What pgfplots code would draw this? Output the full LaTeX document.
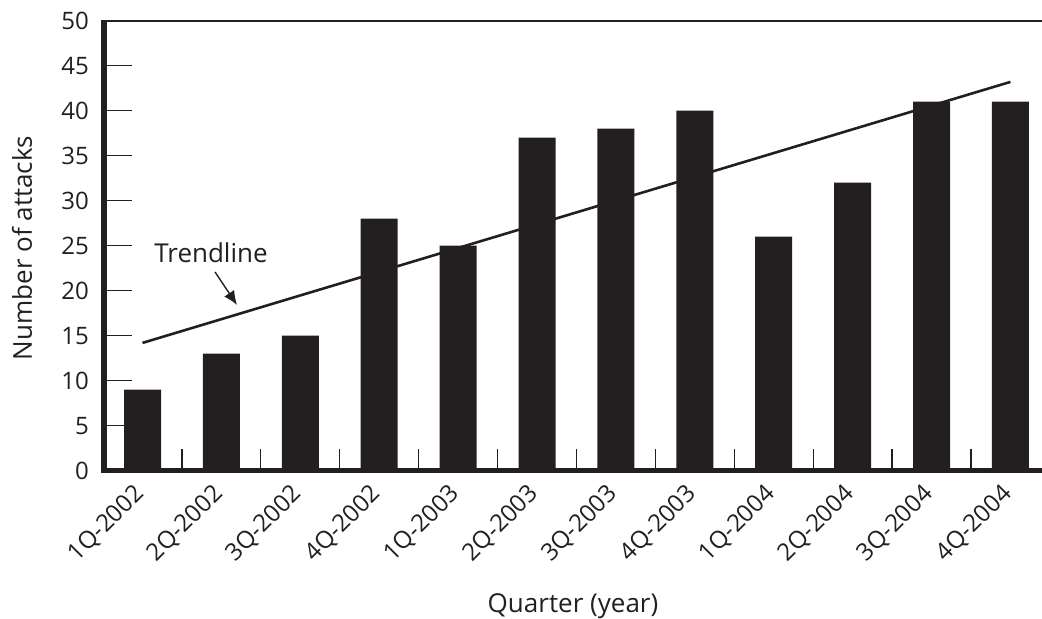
\documentclass[border=0pt]{standalone}
\usepackage{pgfplots}
\pgfplotsset{compat=1.18}
\usepackage{fontspec}
\setmainfont{Open Sans}
\usetikzlibrary{arrows.meta}
\definecolor{ink}{RGB}{35,31,32}
\begin{document}
\begin{tikzpicture}
\useasboundingbox (-52pt,-74.15pt) rectangle (469pt,235.35pt);
\begin{axis}[
  at={(0,0)}, anchor=south west,
  scale only axis, width=469pt, height=225pt,
  xmin=-0.488, xmax=11.40, ymin=0, ymax=50,
  clip=false,
  axis line style={draw=none},
  tick pos=left, tick align=inside,
  /pgf/number format/assume math mode=true,
  font=\fontsize{12}{14}\selectfont,
  ytick={0,5,...,50},
  xtick={0,...,11},
  xticklabels={1Q-2002,2Q-2002,3Q-2002,4Q-2002,1Q-2003,2Q-2003,3Q-2003,4Q-2003,1Q-2004,2Q-2004,3Q-2004,4Q-2004},
  major x tick style={draw=none},
  minor xtick={0.5,1.5,...,10.5},
  minor x tick style={draw=ink, line width=0.6pt},
  minor tick length=11pt,
  major tick length=14pt,
  y tick style={draw=ink, line width=0.8pt},
  xticklabel style={xshift=-5pt, yshift=-1pt, rotate=45, anchor=north east, text=ink},
  yticklabel style={xshift=-4pt, text=ink},
  xlabel={Quarter (year)},
  ylabel={Number of attacks},
  every axis x label/.style={at={(axis description cs:0.5,0)}, anchor=base, yshift=-71pt, text=ink, font=\fontsize{13}{15}\selectfont},
  every axis y label/.style={at={(axis description cs:-0.0874,0.495)}, rotate=90, anchor=center, text=ink, font=\fontsize{13}{15}\selectfont},
]
\addplot[ybar, bar width=18.5pt, fill=ink, draw=none] coordinates {
  (0,9) (1,13) (2,15) (3,28) (4,25) (5,37) (6,38) (7,40) (8,26) (9,32) (10,41) (11,41)
};
\addplot[ink, line width=1.3pt, no markers] coordinates {(0,14.2) (11,43.2)};
\node[anchor=base, text=ink, font=\fontsize{13}{15}\selectfont] at (axis cs:0.868,23.08) {Trendline};
\draw[ink, line width=0.7pt, -{Latex[length=7pt,width=6pt]}] (axis cs:0.919,22.08) -- (axis cs:1.198,18.41);
\end{axis}
\fill[ink] (0pt,224.5pt) rectangle (469pt,225.5pt);
\fill[ink] (0pt,-1.25pt) rectangle (469pt,1.25pt);
\fill[ink] (-1.5pt,-1.25pt) rectangle (1.5pt,225.5pt);
\end{tikzpicture}
\end{document}
